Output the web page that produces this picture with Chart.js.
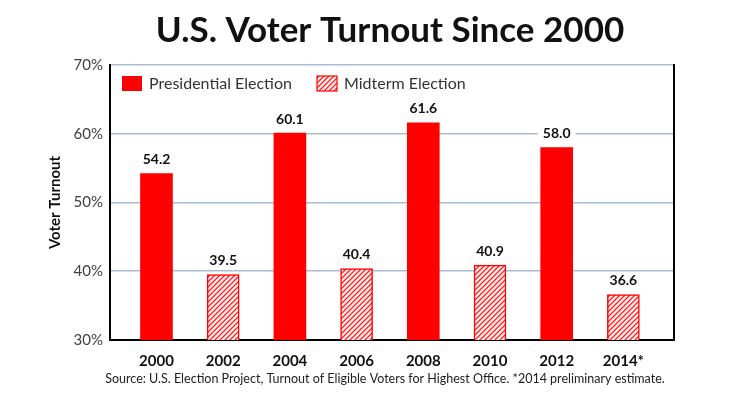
<!DOCTYPE html>
<html>
<head>
<meta charset="utf-8">
<script src="https://cdn.jsdelivr.net/npm/chart.js@4"></script>
<style>
  html, body { margin: 0; padding: 0; background: #fff; }
  #wrap { width: 740px; height: 400px; }
</style>
</head>
<body>
<div id="wrap"><canvas id="myChart" width="740" height="400"></canvas></div>
<script>
// data
const years = ['2000', '2002', '2004', '2006', '2008', '2010', '2012', '2014*'];
const presidential = [54.2, null, 60.1, null, 61.6, null, 58.0, null];
const midterm = [null, 39.5, null, 40.4, null, 40.9, null, 36.6];
const yTicks = [30, 40, 50, 60, 70];

const titleText = 'U.S. Voter Turnout Since 2000';
const sourceText = 'Source: U.S. Election Project, Turnout of Eligible Voters for Highest Office. *2014 preliminary estimate.';

const FONT = 'Lato, "Open Sans", sans-serif';

function hatch() {
    const c = document.createElement('canvas');
    c.width = 5; c.height = 5;
    const g = c.getContext('2d');
    g.fillStyle = '#fff2f2';
    g.fillRect(0, 0, 5, 5);
    g.strokeStyle = '#ff2020';
    g.lineWidth = 1.3;
    g.beginPath();
    g.moveTo(0, 5); g.lineTo(5, 0);
    g.moveTo(-1, 1); g.lineTo(1, -1);
    g.moveTo(4, 6); g.lineTo(6, 4);
    g.stroke();
    return g.createPattern(c, 'repeat');
}

// title, source note, value labels with white box, legend inside plot, right frame line
const extras = {
    id: 'extras',
    afterDatasetsDraw(chart) {
        const ctx = chart.ctx;
        const area = chart.chartArea;
        ctx.save();

        // title + source, centred a bit right of the canvas like the original
        ctx.textAlign = 'center';
        ctx.textBaseline = 'middle';
        ctx.fillStyle = '#111';
        ctx.font = 'bold 35px ' + FONT;
        ctx.fillText(titleText, 390, 31);
        ctx.fillStyle = '#222';
        ctx.font = '12.5px ' + FONT;
        ctx.fillText(sourceText, 385, 379);

        // right border
        ctx.strokeStyle = '#000';
        ctx.lineWidth = 2;
        ctx.beginPath();
        ctx.moveTo(area.right, area.top - 1);
        ctx.lineTo(area.right, area.bottom);
        ctx.stroke();

        ctx.font = 'bold 14px ' + FONT;
        chart.data.datasets.forEach((ds, i) => {
            chart.getDatasetMeta(i).data.forEach((bar, j) => {
                const v = ds.data[j];
                if (v === null) return;
                const txt = v.toFixed(1);
                const w = ctx.measureText(txt).width + 10;
                const y = bar.y - 14;
                ctx.fillStyle = '#fff';
                ctx.fillRect(bar.x - w / 2, y - 8, w, 16);
                ctx.fillStyle = '#111';
                ctx.fillText(txt, bar.x, y);
            });
        });

        // legend
        ctx.font = '16px ' + FONT;
        ctx.textAlign = 'left';
        const lx = [area.left + 12, area.left + 207];
        chart.data.datasets.forEach((ds, i) => {
            const x = lx[i], y = area.top + 11;
            ctx.fillStyle = ds.backgroundColor;
            ctx.fillRect(x, y, 20, 15);
            if (ds.borderWidth) {
                ctx.strokeStyle = ds.borderColor;
                ctx.lineWidth = 1.2;
                ctx.strokeRect(x, y, 20, 15);
            }
            ctx.fillStyle = '#333';
            ctx.fillText(ds.label, x + 27, y + 8);
        });
        ctx.restore();
    }
};

const ctx = document.getElementById('myChart').getContext('2d');

new Chart(ctx, {
    type: 'bar',
    data: {
        labels: years,
        datasets: [
            {
                label: 'Presidential Election',
                data: presidential,
                backgroundColor: '#ff0000',
                borderWidth: 0,
                barThickness: 32
            },
            {
                label: 'Midterm Election',
                data: midterm,
                backgroundColor: hatch(),
                borderColor: '#ff0000',
                borderWidth: 1.5,
                barThickness: 32
            }
        ]
    },
    options: {
        responsive: false,
        animation: false,
        skipNull: true,
        layout: { padding: { left: 46, right: 66, top: 65, bottom: 32 } },
        plugins: {
            legend: { display: false },
            tooltip: { enabled: false }
        },
        scales: {
            x: {
                offset: false,
                grid: { display: false },
                border: { color: '#000', width: 2 },
                ticks: {
                    color: '#111',
                    font: { family: FONT, size: 15, weight: 'bold' },
                    padding: 4,
                    maxRotation: 0
                },
                afterFit(scale) { scale.height = 28; },
                afterBuildTicks(scale) {
                    // pull the bars in from the frame like the original
                    scale._startValue = -0.697;
                    scale._valueRange = 8.456;
                }
            },
            y: {
                min: 30,
                max: 70,
                afterBuildTicks(scale) {
                    scale.ticks = yTicks.map(v => ({ value: v }));
                },
                grid: { color: '#a9bdd6', lineWidth: 1.6, drawTicks: false },
                border: { color: '#000', width: 2 },
                ticks: {
                    color: '#404040',
                    font: { family: FONT, size: 15 },
                    padding: 7,
                    callback: v => v + '%'
                },
                title: {
                    display: true,
                    text: 'Voter Turnout',
                    color: '#111',
                    font: { family: FONT, size: 15, weight: 'bold' },
                    padding: { top: 0, bottom: 0 }
                },
                afterFit(scale) { scale.width = 64; }
            }
        }
    },
    plugins: [extras]
});
</script>
</body>
</html>
